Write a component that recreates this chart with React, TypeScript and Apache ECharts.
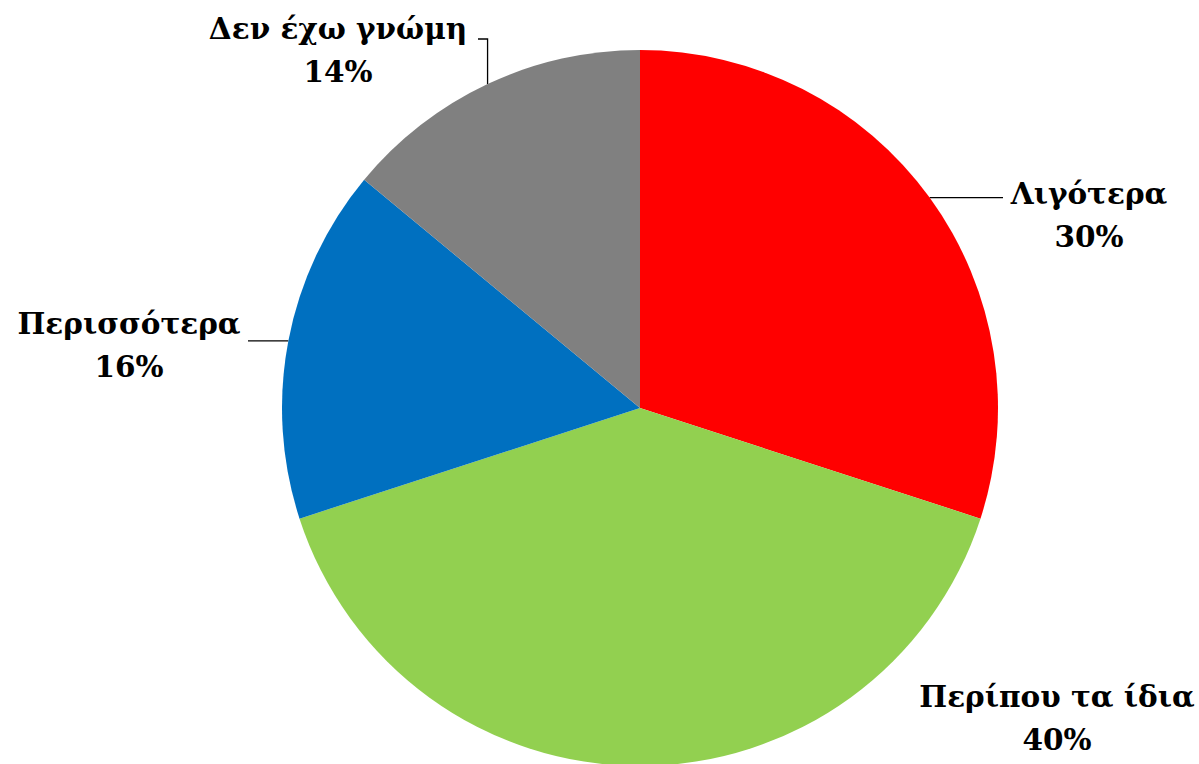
import React, { useEffect, useRef } from "react";
import * as echarts from "echarts";

const categories = ["Λιγότερα", "Περίπου τα ίδια", "Περισσότερα", "Δεν έχω γνώμη"];
const values = [30, 40, 16, 14];
const colors = ["#FF0000", "#92D050", "#0070C0", "#808080"];

// label block centres (layout only)
const labelCenters = [
  [1089, 215],
  [1057, 718],
  [129, 345],
  [338, 50],
];

export default function App() {
  const ref = useRef<HTMLDivElement>(null);
  useEffect(() => {
    if (!ref.current) return;
    const chart = echarts.init(ref.current, undefined, { renderer: "svg" });
    chart.setOption({
      animation: false,
      backgroundColor: "#ffffff",
      series: [
        {
          type: "pie",
          center: [640, 408],
          radius: 358,
          startAngle: 90,
          clockwise: true,
          data: categories.map((c, i) => ({
            name: c,
            value: values[i],
            itemStyle: { color: colors[i] },
          })),
          label: {
            show: true,
            position: "outside",
            formatter: "{b}\n{c}%",
            fontFamily: "DejaVu Serif",
            fontWeight: "bold",
            fontSize: 29.5,
            lineHeight: 43,
            color: "#000000",
            align: "center",
          },
          labelLine: {
            show: true,
            length: 10,
            length2: 20,
            smooth: false,
            lineStyle: { color: "#000000", width: 1.3 },
          },
          labelLayout: (params: any) => {
            const i = params.dataIndex;
            const [cx, cy] = labelCenters[i];
            const p0 = params.labelLinePoints ? params.labelLinePoints[0] : [0, 0];
            let pts: number[][] | undefined;
            if (i === 0) {
              pts = [p0, [p0[0] + 30, p0[1]], [1003, p0[1]]];
            } else if (i === 2) {
              pts = [p0, [p0[0] - 20, p0[1]], [248, p0[1]]];
            } else if (i === 3) {
              pts = [p0, [p0[0], 39], [478, 39]];
            } else {
              pts = [p0, p0, p0];
            }
            return {
              x: cx,
              y: cy,
              align: "center",
              verticalAlign: "middle",
              labelLinePoints: pts,
            };
          },
        },
      ],
    });
    return () => chart.dispose();
  }, []);
  return (
    <div
      ref={ref}
      style={{ position: "fixed", left: 0, top: 0, width: 1199, height: 764 }}
    />
  );
}
